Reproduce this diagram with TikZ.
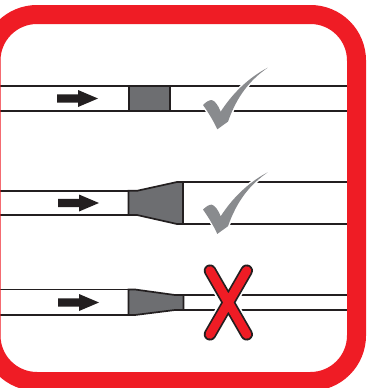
\documentclass[tikz,border=0pt]{standalone}
\definecolor{framered}{HTML}{EF1C25}
\definecolor{ink}{HTML}{231F20}
\definecolor{blockgray}{HTML}{6D6E71}
\definecolor{checkgray}{HTML}{898B8E}
\tikzset{
  x=1pt,y=-1pt,
  tube/.style={draw=ink,line width=1.7pt},
  plug/.style={draw=ink,fill=blockgray,line width=1.7pt,line join=miter},
  flow/.style={fill=ink,draw=none},
  tick/.style={fill=checkgray,draw=white,line width=3pt,line join=round,preaction={}},
}
\newcommand{\flowarrow}[2]{%
  \fill[flow] (#1,#2-4.2) -- (#1+21,#2-4.2) -- (#1+21,#2-8.5) -- (#1+41,#2) -- (#1+21,#2+8.5) -- (#1+21,#2+4.2) -- (#1,#2+4.2) -- cycle;}
\newcommand{\tickmark}[1]{%
  \begin{scope}[yshift=#1]
  \path[tick,fill=none] (267.7,67.7) .. controls (250,80) and (237,96) .. (228,121.6) -- (217.3,129.3) .. controls (213,120) and (208,112) .. (203,105) .. controls (206,102) and (209,100) .. (211.7,100) .. controls (215,101) and (218,105) .. (220.7,111.7) .. controls (232,94) and (248,78) .. cycle;
  \fill[checkgray] (267.7,67.7) .. controls (250,80) and (237,96) .. (228,121.6) -- (217.3,129.3) .. controls (213,120) and (208,112) .. (203,105) .. controls (206,102) and (209,100) .. (211.7,100) .. controls (215,101) and (218,105) .. (220.7,111.7) .. controls (232,94) and (248,78) .. cycle;
  \end{scope}}
\begin{document}
\begin{tikzpicture}
\useasboundingbox (0,0) rectangle (380,388);
\clip (0,0) rectangle (380,388);
\fill[white] (0,0) rectangle (380,388);
% row 1
\draw[tube] (0,85.8) -- (129,85.8) (0,111) -- (129,111);
\draw[tube] (170,85.8) -- (347,85.8) (170,111) -- (347,111);
\draw[plug] (129.3,85.8) rectangle (170,111);
\flowarrow{57}{98.5}
% row 2
\draw[tube] (0,190.8) -- (129,190.8) (0,215) -- (129,215);
\draw[tube] (183,182) -- (347,182) (183,224) -- (347,224);
\draw[plug] (128.5,190.8) -- (137,190.8) -- (177,182) -- (183,182) -- (183,224) -- (177,224) -- (137,215) -- (128.5,215) -- cycle;
\flowarrow{58}{203}
% row 3
\draw[tube] (0,289.5) -- (129,289.5) (0,315) -- (129,315);
\draw[tube] (184,295) -- (347,295) (184,310) -- (347,310);
\draw[plug] (128.5,289.5) -- (135,289.5) -- (175,295) -- (183.5,295) -- (183.5,310) -- (175,310) -- (135,315) -- (128.5,315) -- cycle;
\flowarrow{58}{302.5}
% marks
\tickmark{0pt}
\tickmark{-104.6pt}
\draw[white,line width=16pt,line cap=round] (210,270.7) -- (246.7,334.3) (246.7,270.7) -- (210,334.3);
\draw[ink,line width=12.5pt,line cap=round] (210,270.7) -- (246.7,334.3) (246.7,270.7) -- (210,334.3);
\draw[framered,line width=9pt,line cap=round] (210,270.7) -- (246.7,334.3) (246.7,270.7) -- (210,334.3);
% frame
\draw[framered,line width=19pt,rounded corners=46pt] (-9,14.5) rectangle (356.5,381.5);
\end{tikzpicture}
\end{document}
